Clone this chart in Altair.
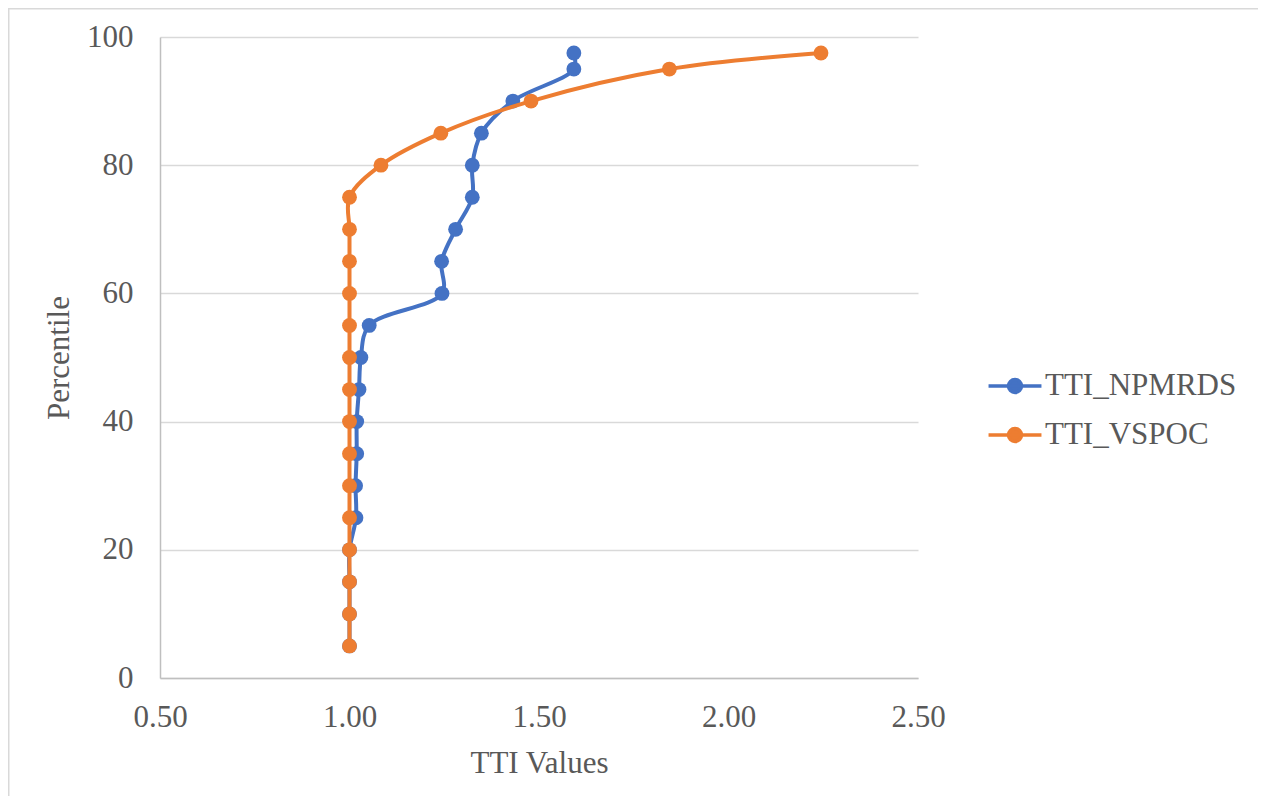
import altair as alt
import pandas as pd

pct = [5, 10, 15, 20, 25, 30, 35, 40, 45, 50, 55, 60, 65, 70, 75, 80, 85, 90, 95, 97.5]
tti_npmrds = [1.00, 1.00, 1.00, 1.00, 1.017, 1.016, 1.019, 1.019, 1.025, 1.030,
              1.052, 1.244, 1.243, 1.280, 1.324, 1.324, 1.348, 1.431, 1.592, 1.592]
tti_vspoc = [1.00, 1.00, 1.00, 1.00, 1.00, 1.00, 1.00, 1.00, 1.00, 1.00,
             1.00, 1.00, 1.00, 1.00, 1.00, 1.083, 1.241, 1.479, 1.844, 2.244]
series_names = ["TTI_NPMRDS", "TTI_VSPOC"]
series_colors = ["#4472C4", "#ED7D31"]
x_ticks = [0.5, 1.0, 1.5, 2.0, 2.5]
y_ticks = [0, 20, 40, 60, 80, 100]

rows = []
for p, v in zip(pct, tti_npmrds):
    rows.append({"pct": p, "tti": v, "series": series_names[0]})
for p, v in zip(pct, tti_vspoc):
    rows.append({"pct": p, "tti": v, "series": series_names[1]})
df = pd.DataFrame(rows)

FONT = "Liberation Serif"
TXT = "#595959"
FS = 31
W, H = 758, 641

legend_path = ("M-1.47,0L1.47,0M0.36,0A0.36,0.36,0,1,1,-0.36,0"
               "A0.36,0.36,0,1,1,0.36,0Z")

x_enc = alt.X("tti:Q",
              scale=alt.Scale(domain=[0.5, 2.5], nice=False, zero=False),
              axis=alt.Axis(values=x_ticks, format=".2f", title="TTI Values",
                            grid=False, ticks=False, domainColor="#bfbfbf",
                            domainWidth=1.5, labelPadding=24, labelFlush=False,
                            titleBaseline="alphabetic", titleY=94))
y_enc = alt.Y("pct:Q",
              scale=alt.Scale(domain=[0, 100], nice=False),
              axis=alt.Axis(values=y_ticks, title="Percentile", grid=True,
                            gridColor="#d9d9d9", gridWidth=1.5, ticks=False,
                            domainColor="#bfbfbf", domainWidth=1.5,
                            labelPadding=27, labelFlush=False,
                            titleBaseline="alphabetic", titleX=-92))
color_enc = alt.Color("series:N",
                      scale=alt.Scale(domain=series_names, range=series_colors),
                      legend=alt.Legend(
                          title=None, orient="none", legendX=835, legendY=329,
                          symbolType=legend_path, symbolSize=1296,
                          symbolStrokeWidth=3.5, rowPadding=14, labelOffset=10,
                          labelFont=FONT, labelFontSize=FS, labelColor=TXT,
                          labelLimit=400, padding=0, symbolOpacity=1,
                          labelBaseline="middle"))

base = alt.Chart(df).encode(x=x_enc, y=y_enc, color=color_enc,
                            order=alt.Order("pct:Q"))

layers = []
for name in series_names:
    sub = base.transform_filter(alt.datum.series == name)
    layers.append(sub.mark_line(strokeWidth=4, interpolate="catmull-rom"))
    layers.append(sub.mark_circle(size=220, opacity=1))

frame_df = pd.DataFrame({"k": [0]})
frame_top = alt.Chart(frame_df).mark_rule(color="#d9d9d9", strokeWidth=2).encode(
    x=alt.value(-152), x2=alt.value(1100), y=alt.value(-28.5))
frame_left = alt.Chart(frame_df).mark_rule(color="#d9d9d9", strokeWidth=2).encode(
    x=alt.value(-151.5), y=alt.value(-29), y2=alt.value(760))

chart = alt.layer(*layers, frame_top, frame_left).properties(
    width=W, height=H,
    autosize=alt.AutoSizeParams(type="none"),
    padding={"left": 152, "top": 29, "right": 340, "bottom": 118},
).configure_view(stroke=None).configure_axis(
    labelFont=FONT, labelFontSize=FS, labelColor=TXT,
    titleFont=FONT, titleFontSize=FS, titleColor=TXT, titleFontWeight="normal",
)

chart.save("out.html", embed_options={"renderer": "svg", "actions": False})
